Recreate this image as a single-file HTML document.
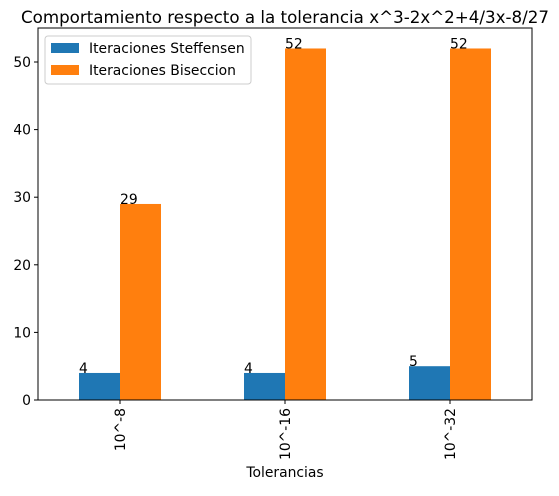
<!DOCTYPE html>
<html><head><meta charset="utf-8"><style>
body{margin:0;background:#fff;}
svg text{font-family:"DejaVu Sans","Liberation Sans",sans-serif;fill:#000;}
</style></head><body>
<svg id="chart" width="559" height="491">
<text x="285" y="23" font-size="16.7" text-anchor="middle">Comportamiento respecto a la tolerancia x^3-2x^2+4/3x-8/27</text>
<g id="bars"></g>
<g id="axes"></g>
<rect x="38" y="28" width="494" height="372" fill="none" stroke="#000" stroke-width="1"/>
<text x="285" y="477" font-size="13.9" text-anchor="middle">Tolerancias</text>
<g>
<rect x="45" y="36" width="206" height="48" rx="3" fill="#fff" fill-opacity="0.8" stroke="#ccc"/>
<g><rect x="51" y="43" width="28" height="10" fill="#1f77b4"/><text x="89" y="53" font-size="13.9">Iteraciones Steffensen</text></g>
<g><rect x="51" y="65" width="28" height="10" fill="#ff7f0e"/><text x="89" y="75" font-size="13.9">Iteraciones Biseccion</text></g>
</g>
</svg>
<script>
const categories=["10^-8","10^-16","10^-32"];
const steffensen=[4,4,5];
const biseccion=[29,52,52];
const yTicks=[0,10,20,30,40,50];
const ns="http://www.w3.org/2000/svg";
const y0=400, yScale=6.76;
const yPos=v=>y0-v*yScale;
const xCenter=i=>120+i*165;
const bw=41;
const bars=document.getElementById('bars'), axes=document.getElementById('axes');
function mk(t,a,p){const e=document.createElementNS(ns,t);for(const k in a)e.setAttribute(k,a[k]);p.appendChild(e);return e;}
categories.forEach((c,i)=>{
  const cx=xCenter(i);
  const b1=mk('rect',{x:cx-bw,y:yPos(steffensen[i]),width:bw,height:steffensen[i]*yScale,fill:'#1f77b4'},bars);
  
  
  const b2=mk('rect',{x:cx,y:yPos(biseccion[i]),width:bw,height:biseccion[i]*yScale,fill:'#ff7f0e'},bars);
  
  
  const t1=mk('text',{x:cx-bw,y:yPos(steffensen[i]),'font-size':13.9},bars);t1.textContent=steffensen[i];
  
  
  const t2=mk('text',{x:cx,y:yPos(biseccion[i]),'font-size':13.9},bars);t2.textContent=biseccion[i];
  
  
  mk('line',{x1:cx,x2:cx,y1:400,y2:404,stroke:'#000'},axes);
  const tl=mk('text',{x:0,y:0,'font-size':13.9,'text-anchor':'end',transform:`translate(${cx+5},408) rotate(-90)`},axes);tl.textContent=c;
  
  
});
yTicks.forEach(v=>{
  const y=yPos(v);
  mk('line',{x1:34,x2:38,y1:y,y2:y,stroke:'#000'},axes);
  const t=mk('text',{x:31,y:y+5,'font-size':13.9,'text-anchor':'end'},axes);t.textContent=v;
  
  
});
</script>
</body></html>
